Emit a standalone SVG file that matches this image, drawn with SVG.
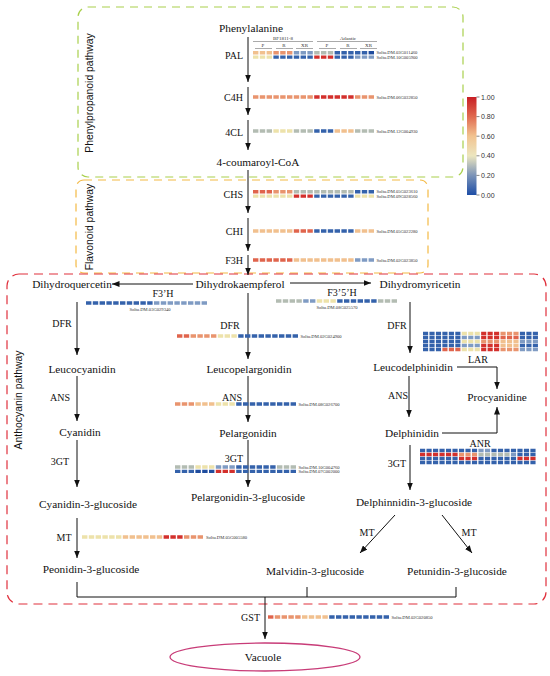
<svg xmlns="http://www.w3.org/2000/svg" width="550" height="676" viewBox="0 0 550 676">
<defs>
<style>
.n{font-family:"Liberation Serif","Times New Roman",serif;font-size:11.3px;fill:#111;text-anchor:middle}
.e{font-family:"Liberation Serif","Times New Roman",serif;font-size:10px;fill:#111;text-anchor:middle}
.er{font-family:"Liberation Serif","Times New Roman",serif;font-size:10px;fill:#111;text-anchor:end}
.gl{font-family:"Liberation Serif","Times New Roman",serif;font-size:4.6px;fill:#333}
.glm{font-family:"Liberation Serif","Times New Roman",serif;font-size:4.6px;fill:#333;text-anchor:middle}
.hd{font-family:"Liberation Serif","Times New Roman",serif;font-size:5px;fill:#333;text-anchor:middle}
.pw{font-family:"Liberation Sans",Arial,sans-serif;font-size:10.4px;fill:#111;text-anchor:middle}
.cb{font-family:"Liberation Sans",Arial,sans-serif;font-size:7px;fill:#333}
.ln{stroke:#111;stroke-width:1;fill:none}
.ar{stroke:#111;stroke-width:1;fill:none;marker-end:url(#ah)}
.hm line{stroke-width:3.4;stroke-dasharray:5.4 1.4}
.R{stroke:#d3302c}.r{stroke:#e0644c}.o{stroke:#e9946e}.p{stroke:#f1c08e}.y{stroke:#ede2aa}
.g{stroke:#b3bcb2}.l{stroke:#7f9bc3}.b{stroke:#3462ab}.B{stroke:#1f4c9e}
</style>
<marker id="ah" viewBox="0 0 10 8" refX="10" refY="4" markerWidth="7.5" markerHeight="6" orient="auto" markerUnits="userSpaceOnUse">
<path d="M0,0 L10,4 L0,8 z" fill="#111"/>
</marker>
<linearGradient id="cbg" x1="0" y1="0" x2="0" y2="1">
<stop offset="0" stop-color="#c81e24"/>
<stop offset="0.2" stop-color="#e06a50"/>
<stop offset="0.4" stop-color="#f2c390"/>
<stop offset="0.6" stop-color="#ece6bf"/>
<stop offset="0.8" stop-color="#7b93b8"/>
<stop offset="1" stop-color="#1e4ea6"/>
</linearGradient>
</defs>
<rect width="550" height="676" fill="#fff"/>

<g id="boxes" fill="none">
<rect x="78" y="7" width="385" height="170" rx="10" stroke="#a9d04c" stroke-width="1.2" stroke-dasharray="8 6"/>
<rect x="76" y="180" width="352" height="93" rx="8" stroke="#f4b944" stroke-width="1.2" stroke-dasharray="8 6"/>
<rect x="7" y="274" width="539" height="330" rx="12" stroke="#e0303c" stroke-width="1.2" stroke-dasharray="9 6"/>
<text class="pw" transform="translate(93,93) rotate(-90)">Phenylpropanoid pathway</text>
<text class="pw" transform="translate(93,227) rotate(-90)">Flavonoid pathway</text>
<text class="pw" transform="translate(22,400) rotate(-90)">Anthocyanin pathway</text>
</g>

<g id="colorbar">
<rect x="467" y="97" width="9.5" height="98" fill="url(#cbg)"/>
<path d="M476.5 97h3M476.5 116.6h3M476.5 136.2h3M476.5 155.8h3M476.5 175.4h3M476.5 195h3" stroke="#333" stroke-width="0.6"/>
<text class="cb" x="481" y="99.5">1.00</text>
<text class="cb" x="481" y="119.1">0.80</text>
<text class="cb" x="481" y="138.7">0.60</text>
<text class="cb" x="481" y="158.3">0.40</text>
<text class="cb" x="481" y="177.9">0.20</text>
<text class="cb" x="481" y="197.5">0.00</text>
</g>

<g id="connectors">
<line class="ar" x1="248" y1="37" x2="248" y2="82"/>
<line class="ar" x1="248" y1="87" x2="248" y2="115"/>
<line class="ar" x1="248" y1="120" x2="248" y2="150"/>
<line class="ar" x1="248" y1="170" x2="248" y2="213"/>
<line class="ar" x1="248" y1="218" x2="248" y2="251"/>
<line class="ar" x1="248" y1="255" x2="248" y2="275"/>
<line class="ar" x1="193" y1="284" x2="112" y2="284"/>
<line class="ar" x1="290" y1="283" x2="371" y2="283"/>
<line class="ar" x1="248" y1="293" x2="248" y2="359"/>
<line class="ar" x1="77" y1="302" x2="77" y2="355"/>
<line class="ar" x1="410" y1="302" x2="410" y2="353"/>
<line class="ar" x1="77" y1="376" x2="77" y2="421"/>
<line class="ar" x1="248" y1="376" x2="248" y2="422"/>
<line class="ar" x1="409" y1="376" x2="409" y2="417"/>
<line class="ar" x1="77" y1="440" x2="77" y2="487"/>
<line class="ar" x1="248" y1="440" x2="248" y2="487"/>
<line class="ar" x1="410" y1="445" x2="410" y2="490"/>
<polyline class="ar" points="457,367 497,367 497,389"/>
<polyline class="ar" points="442,433 497,433 497,407"/>
<line class="ar" x1="77" y1="518" x2="77" y2="558"/>
<line class="ar" x1="395" y1="515" x2="360" y2="553"/>
<line class="ar" x1="442" y1="515" x2="472" y2="553"/>
<path class="ln" d="M77 582V597H456V587M307 587V597"/>
<line class="ar" x1="265" y1="597" x2="265" y2="639"/>
</g>

<g id="header">
<text class="hd" x="283" y="39.5">BF1811-8</text>
<text class="hd" x="348" y="39.5">Atlantic</text>
<path d="M253 41.5h60M317 41.5h60M255 48.5h17M276 48.5h17M296 48.5h17M319 48.5h17M340 48.5h17M360 48.5h17" stroke="#555" stroke-width="0.5"/>
<text class="hd" x="263" y="47" font-size="5.5">P</text>
<text class="hd" x="284" y="47" font-size="5.5">R</text>
<text class="hd" x="304.5" y="47" font-size="5.5">XR</text>
<text class="hd" x="327" y="47" font-size="5.5">P</text>
<text class="hd" x="348" y="47" font-size="5.5">R</text>
<text class="hd" x="368.5" y="47" font-size="5.5">XR</text>
</g>

<g id="node-phenylalanine"><text class="n" x="251" y="32">Phenylalanine</text></g>
<g id="node-pal">
<text class="er" x="243" y="59">PAL</text>
<g class="hm" transform="translate(253,52.7)">
<line class="p" x1="0" x2="19"/><line class="o" x1="20.4" x2="39.4"/><line class="l" x1="40.8" x2="59.8"/><line class="g" x1="61.2" x2="80.2"/><line class="b" x1="81.6" x2="114.2"/><line class="B" x1="115.6" x2="121"/>
</g>
<g class="hm" transform="translate(253,57.1)">
<line class="y" x1="0" x2="19"/><line class="b" x1="20.4" x2="59.8"/><line class="R" x1="61.2" x2="80.2"/><line class="b" x1="81.6" x2="100.6"/><line class="l" x1="102" x2="121"/>
</g>
<text class="gl" x="376.5" y="54.3">Soltu.DM.03G011460</text>
<text class="gl" x="376.5" y="58.7">Soltu.DM.10G005900</text>
</g>
<g id="node-c4h">
<text class="er" x="243" y="101">C4H</text>
<g class="hm" transform="translate(253,97)">
<line class="o" x1="0" x2="59.8"/><line class="R" x1="61.2" x2="100.6"/><line class="o" x1="102" x2="121"/>
</g>
<text class="gl" x="376.5" y="98.6">Soltu.DM.06G032850</text>
</g>
<g id="node-4cl">
<text class="er" x="243" y="136">4CL</text>
<g class="hm" transform="translate(253,131)">
<line class="g" x1="0" x2="19"/><line class="y" x1="20.4" x2="39.4"/><line class="g" x1="40.8" x2="59.8"/><line class="b" x1="61.2" x2="80.2"/><line class="p" x1="81.6" x2="100.6"/><line class="g" x1="102" x2="121"/>
</g>
<text class="gl" x="376.5" y="132.6">Soltu.DM.12G004930</text>
</g>
<g id="node-coumaroyl"><text class="n" x="258" y="166">4-coumaroyl-CoA</text></g>
<g id="node-chs">
<text class="er" x="243" y="198">CHS</text>
<g class="hm" transform="translate(253,191.7)">
<line class="r" x1="0" x2="19"/><line class="o" x1="20.4" x2="39.4"/><line class="g" x1="40.8" x2="100.6"/><line class="b" x1="102" x2="121"/>
</g>
<g class="hm" transform="translate(253,196.1)">
<line class="y" x1="0" x2="39.4"/><line class="R" x1="40.8" x2="59.8"/><line class="b" x1="61.2" x2="100.6"/><line class="y" x1="102" x2="121"/>
</g>
<text class="gl" x="376.5" y="193.3">Soltu.DM.05G023610</text>
<text class="gl" x="376.5" y="197.7">Soltu.DM.09G028560</text>
</g>
<g id="node-chi">
<text class="er" x="243" y="235">CHI</text>
<g class="hm" transform="translate(253,231)">
<line class="p" x1="0" x2="39.4"/><line class="r" x1="40.8" x2="59.8"/><line class="b" x1="61.2" x2="100.6"/><line class="p" x1="102" x2="121"/>
</g>
<text class="gl" x="376.5" y="232.6">Soltu.DM.05G022280</text>
</g>
<g id="node-f3h">
<text class="er" x="243" y="264">F3H</text>
<g class="hm" transform="translate(253,260)">
<line class="r" x1="0" x2="39.4"/><line class="p" x1="40.8" x2="100.6"/><line class="l" x1="102" x2="121"/>
</g>
<text class="gl" x="376.5" y="261.6">Soltu.DM.02G023850</text>
</g>

<g id="node-dihydrokaempferol"><text class="n" x="240" y="288">Dihydrokaempferol</text></g>
<g id="node-dihydroquercetin"><text class="n" x="72" y="288">Dihydroquercetin</text></g>
<g id="node-dihydromyricetin"><text class="n" x="420" y="288">Dihydromyricetin</text></g>

<g id="node-f3prime-h">
<text class="e" x="163" y="297">F3’H</text>
<g class="hm" transform="translate(86,303)">
<line class="b" x1="0" x2="66.6"/><line class="l" x1="68" x2="121"/>
</g>
<text class="glm" x="150" y="311">Soltu.DM.03G029340</text>
</g>
<g id="node-f35h">
<text class="e" x="342" y="296">F3’5’H</text>
<g class="hm" transform="translate(276,301)">
<line class="g" x1="0" x2="25.8"/><line class="l" x1="27.2" x2="39.4"/><line class="y" x1="40.8" x2="59.8"/><line class="b" x1="61.2" x2="100.6"/><line class="g" x1="102" x2="121"/>
</g>
<text class="glm" x="337" y="308.5">Soltu.DM.08G025570</text>
</g>

<g id="node-dfr-left"><text class="e" x="62" y="327">DFR</text></g>
<g id="node-dfr-mid">
<text class="e" x="230" y="329">DFR</text>
<g class="hm" transform="translate(177,336)">
<line class="r" x1="0" x2="12.2"/><line class="o" x1="13.6" x2="39.4"/><line class="y" x1="40.8" x2="59.8"/><line class="b" x1="61.2" x2="121"/>
</g>
<text class="gl" x="300.5" y="337.6">Soltu.DM.02G024900</text>
</g>
<g id="node-dfr-right"><text class="e" x="397" y="329">DFR</text></g>

<g id="node-lar">
<g class="hm" transform="translate(423,333.5) scale(0.95,1)">
<line class="b" x1="0" x2="39.4"/><line class="y" x1="40.8" x2="59.8"/><line class="R" x1="61.2" x2="80.2"/><line class="o" x1="81.6" x2="100.6"/><line class="b" x1="102" x2="121"/>
</g>
<g class="hm" transform="translate(423,337.5) scale(0.95,1)">
<line class="b" x1="0" x2="39.4"/><line class="l" x1="40.8" x2="59.8"/><line class="R" x1="61.2" x2="80.2"/><line class="r" x1="81.6" x2="100.6"/><line class="b" x1="102" x2="121"/>
</g>
<g class="hm" transform="translate(423,341.5) scale(0.95,1)">
<line class="b" x1="0" x2="39.4"/><line class="y" x1="40.8" x2="59.8"/><line class="o" x1="61.2" x2="80.2"/><line class="p" x1="81.6" x2="100.6"/><line class="l" x1="102" x2="121"/>
</g>
<g class="hm" transform="translate(423,345.5) scale(0.95,1)">
<line class="b" x1="0" x2="39.4"/><line class="l" x1="40.8" x2="59.8"/><line class="R" x1="61.2" x2="80.2"/><line class="p" x1="81.6" x2="100.6"/><line class="b" x1="102" x2="121"/>
</g>
<g class="hm" transform="translate(423,349.5) scale(0.95,1)">
<line class="b" x1="0" x2="19"/><line class="r" x1="20.4" x2="39.4"/><line class="y" x1="40.8" x2="59.8"/><line class="R" x1="61.2" x2="80.2"/><line class="o" x1="81.6" x2="100.6"/><line class="l" x1="102" x2="121"/>
</g>
<text class="e" x="478" y="363">LAR</text>
</g>

<g id="node-leucocyanidin"><text class="n" x="82" y="373">Leucocyanidin</text></g>
<g id="node-leucopelargonidin"><text class="n" x="249" y="373">Leucopelargonidin</text></g>
<g id="node-leucodelphinidin"><text class="n" x="413" y="371">Leucodelphinidin</text></g>
<g id="node-procyanidine"><text class="n" x="497" y="401">Procyanidine</text></g>

<g id="node-ans-left"><text class="e" x="60" y="401">ANS</text></g>
<g id="node-ans-mid">
<text class="e" x="232" y="401">ANS</text>
<g class="hm" transform="translate(175,404)">
<line class="o" x1="0" x2="19"/><line class="p" x1="20.4" x2="39.4"/><line class="y" x1="40.8" x2="59.8"/><line class="b" x1="61.2" x2="121"/>
</g>
<text class="gl" x="298.5" y="405.6">Soltu.DM.08G026700</text>
</g>
<g id="node-ans-right"><text class="e" x="398" y="399">ANS</text></g>

<g id="node-cyanidin"><text class="n" x="80" y="436">Cyanidin</text></g>
<g id="node-pelargonidin"><text class="n" x="248" y="437">Pelargonidin</text></g>
<g id="node-delphinidin"><text class="n" x="412" y="437">Delphinidin</text></g>

<g id="node-anr">
<text class="e" x="480" y="447">ANR</text>
<g class="hm" transform="translate(420,450.5) scale(0.955,1)">
<line class="b" x1="0" x2="59.8"/><line class="l" x1="61.2" x2="73.4"/><line class="b" x1="74.8" x2="121"/>
</g>
<g class="hm" transform="translate(420,454.5) scale(0.955,1)">
<line class="R" x1="0" x2="39.4"/><line class="o" x1="40.8" x2="59.8"/><line class="g" x1="61.2" x2="93.8"/><line class="l" x1="95.2" x2="100.6"/><line class="b" x1="102" x2="121"/>
</g>
<g class="hm" transform="translate(420,458.5) scale(0.955,1)">
<line class="b" x1="0" x2="39.4"/><line class="R" x1="40.8" x2="59.8"/><line class="b" x1="61.2" x2="100.6"/><line class="R" x1="102" x2="121"/>
</g>
<g class="hm" transform="translate(420,462.5) scale(0.955,1)">
<line class="b" x1="0" x2="121"/>
</g>
</g>

<g id="node-3gt-left"><text class="e" x="60" y="465">3GT</text></g>
<g id="node-3gt-mid">
<text class="er" x="243" y="462">3GT</text>
<g class="hm" transform="translate(175,467)">
<line class="g" x1="0" x2="19"/><line class="y" x1="20.4" x2="39.4"/><line class="l" x1="40.8" x2="59.8"/><line class="b" x1="61.2" x2="100.6"/><line class="g" x1="102" x2="121"/>
</g>
<g class="hm" transform="translate(175,471.4)">
<line class="b" x1="0" x2="19"/><line class="B" x1="20.4" x2="39.4"/><line class="R" x1="40.8" x2="59.8"/><line class="b" x1="61.2" x2="121"/>
</g>
<text class="gl" x="298.5" y="468.6">Soltu.DM.10G004760</text>
<text class="gl" x="298.5" y="473">Soltu.DM.07G002000</text>
</g>
<g id="node-3gt-right"><text class="e" x="397" y="467">3GT</text></g>

<g id="node-cyanidin-3-glucoside"><text class="n" x="88" y="508">Cyanidin-3-glucoside</text></g>
<g id="node-pelargonidin-3-glucoside"><text class="n" x="248" y="501">Pelargonidin-3-glucoside</text></g>
<g id="node-delphinnidin-3-glucoside"><text class="n" x="414" y="506">Delphinnidin-3-glucoside</text></g>

<g id="node-mt-left">
<text class="e" x="64" y="541">MT</text>
<g class="hm" transform="translate(82,537)">
<line class="y" x1="0" x2="39.4"/><line class="p" x1="40.8" x2="80.2"/><line class="R" x1="81.6" x2="100.6"/><line class="o" x1="102" x2="121"/>
</g>
<text class="gl" x="206" y="538.6">Soltu.DM.05G005580</text>
</g>
<g id="node-mt-right">
<text class="e" x="367" y="536">MT</text>
<text class="e" x="469" y="536">MT</text>
</g>

<g id="node-peonidin-3-glucoside"><text class="n" x="91" y="573">Peonidin-3-glucoside</text></g>
<g id="node-malvidin-3-glucoside"><text class="n" x="315" y="575">Malvidin-3-glucoside</text></g>
<g id="node-petunidin-3-glucoside"><text class="n" x="457" y="575">Petunidin-3-glucoside</text></g>

<g id="node-gst">
<text class="er" x="260" y="621">GST</text>
<g class="hm" transform="translate(268,617)">
<line class="r" x1="0" x2="5.4"/><line class="o" x1="6.8" x2="32.6"/><line class="p" x1="34" x2="59.8"/><line class="b" x1="61.2" x2="121"/>
</g>
<text class="gl" x="391.5" y="618.6">Soltu.DM.02G020850</text>
</g>

<g id="node-vacuole">
<ellipse cx="265" cy="657" rx="95" ry="14" fill="none" stroke="#c83c78" stroke-width="1.3"/>
<text class="n" x="263" y="661">Vacuole</text>
</g>
</svg>
